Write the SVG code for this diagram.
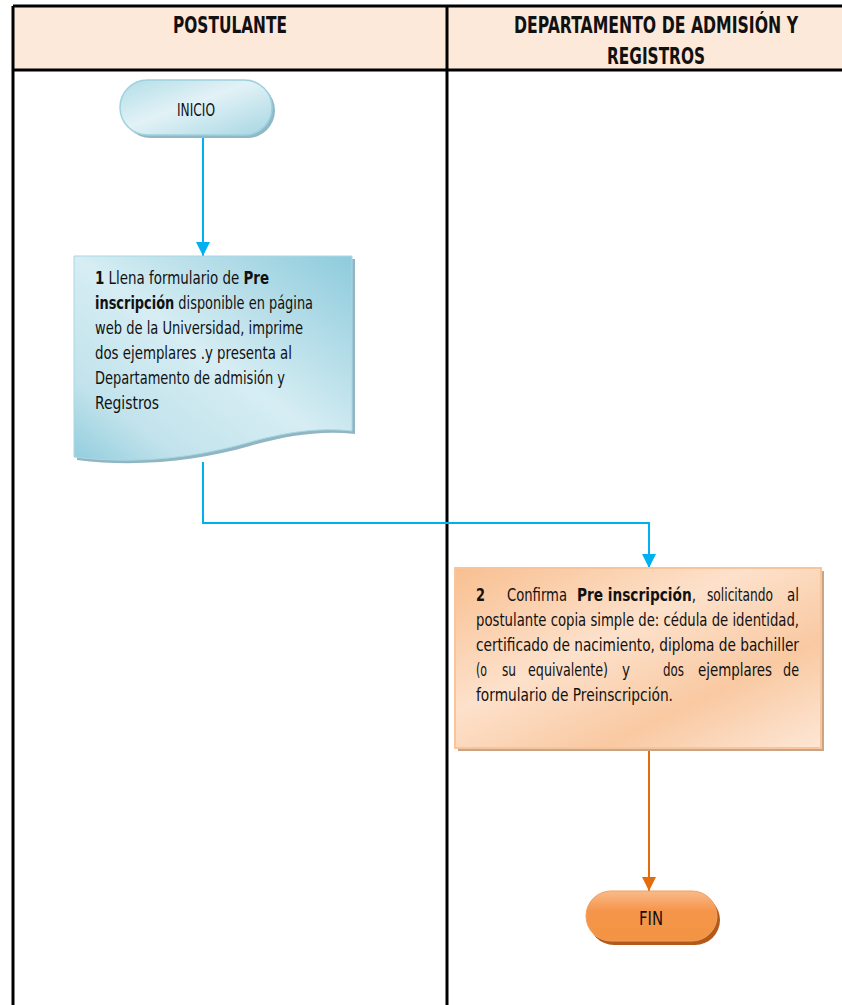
<svg xmlns="http://www.w3.org/2000/svg" width="842" height="1005" viewBox="0 0 842 1005">
<style>
  text{font-family:"Liberation Sans Narrow","DejaVu Sans Condensed","Liberation Sans",sans-serif;fill:#111;}
  .hd{font-size:23px;font-weight:bold;text-anchor:middle;}
  .tx{font-size:18px;}
  .b{font-weight:bold;}
  .grid{stroke:#000;stroke-width:3;fill:none;}
  .cb{stroke:#00b0f0;stroke-width:2;fill:none;}
  .co{stroke:#e46c0a;stroke-width:2;fill:none;}
</style>
<defs>
  <marker id="ab" markerUnits="userSpaceOnUse" markerWidth="16" markerHeight="16" refX="14" refY="7" orient="auto">
    <path d="M0,0 L14,7 L0,14 Z" fill="#00b0f0"/>
  </marker>
  <marker id="ao" markerUnits="userSpaceOnUse" markerWidth="16" markerHeight="16" refX="14" refY="7" orient="auto">
    <path d="M0,0 L14,7 L0,14 Z" fill="#e46c0a"/>
  </marker>
  <linearGradient id="gInicio" x1="0" y1="0" x2="1" y2="1">
    <stop offset="0" stop-color="#b2dde8"/>
    <stop offset="0.45" stop-color="#e2f2f6"/>
    <stop offset="1" stop-color="#a6d6e3"/>
  </linearGradient>
  <linearGradient id="gDoc" x1="1" y1="0" x2="0" y2="1">
    <stop offset="0" stop-color="#8ecbdc"/>
    <stop offset="0.5" stop-color="#d6edf3"/>
    <stop offset="0.8" stop-color="#c2e3ec"/>
    <stop offset="1" stop-color="#92cddd"/>
  </linearGradient>
  <linearGradient id="gBox" x1="0" y1="0" x2="1" y2="1">
    <stop offset="0" stop-color="#f8bf90"/>
    <stop offset="0.4" stop-color="#fde1cb"/>
    <stop offset="0.7" stop-color="#f9c9a2"/>
    <stop offset="1" stop-color="#fde7d6"/>
  </linearGradient>
  <linearGradient id="gFin" x1="0" y1="0" x2="0" y2="1">
    <stop offset="0" stop-color="#f9bb8a"/>
    <stop offset="0.4" stop-color="#f5954a"/>
    <stop offset="1" stop-color="#f39443"/>
  </linearGradient>
</defs>

<g id="lanes">
  <rect x="13" y="6" width="832" height="64" fill="#fde9d9"/>
  <path class="grid" d="M13,6 H845 M13,70 H845 M13,6 V1005 M447,6 V1005"/>
  <text class="hd" x="230" y="33" textLength="114" lengthAdjust="spacingAndGlyphs">POSTULANTE</text>
  <text class="hd" x="656" y="33" textLength="284" lengthAdjust="spacingAndGlyphs">DEPARTAMENTO DE ADMISIÓN Y</text>
  <text class="hd" x="656" y="64" textLength="98" lengthAdjust="spacingAndGlyphs">REGISTROS</text>
</g>

<g id="connectors">
  <path class="cb" d="M203,138 V256" marker-end="url(#ab)"/>
  <path class="cb" d="M203,462 V523 H649 V568" marker-end="url(#ab)"/>
  <path class="co" d="M649,751 V891" marker-end="url(#ao)"/>
</g>

<g id="inicio">
  <rect x="123" y="83" width="152" height="55" rx="27.5" fill="#8fb9c5"/>
  <rect x="120" y="80" width="152" height="55" rx="27.5" fill="url(#gInicio)" stroke="#9fd0de" stroke-width="1.5"/>
  <text class="tx" x="196" y="116" text-anchor="middle" textLength="38" lengthAdjust="spacingAndGlyphs">INICIO</text>
</g>

<g id="paso1">
  <path d="M77,259 H355 V434 C320,430 285,436 250,446 C200,460 140,468 77,460 Z" fill="#8fb6c2"/>
  <path d="M74,256 H352 V431 C317,427 282,433 247,443 C197,457 137,465 74,457 Z" fill="url(#gDoc)" stroke="#a9d7e3" stroke-width="1"/>
  <text class="tx" x="95" y="284" textLength="174" lengthAdjust="spacingAndGlyphs"><tspan class="b">1</tspan> Llena formulario de <tspan class="b">Pre</tspan></text>
  <text class="tx" x="95" y="309" textLength="218" lengthAdjust="spacingAndGlyphs"><tspan class="b">inscripción</tspan> disponible en página</text>
  <text class="tx" x="95" y="334" textLength="208" lengthAdjust="spacingAndGlyphs">web de la Universidad, imprime</text>
  <text class="tx" x="95" y="359" textLength="197" lengthAdjust="spacingAndGlyphs">dos ejemplares .y presenta al</text>
  <text class="tx" x="95" y="384" textLength="190" lengthAdjust="spacingAndGlyphs">Departamento de admisión y</text>
  <text class="tx" x="95" y="409" textLength="64" lengthAdjust="spacingAndGlyphs">Registros</text>
</g>

<g id="paso2">
  <rect x="458" y="571" width="366" height="180" fill="#c9a588"/>
  <rect x="455" y="568" width="366" height="180" fill="url(#gBox)" stroke="#f9c49a" stroke-width="2"/>
  <text class="tx b" x="476" y="601" textLength="9" lengthAdjust="spacingAndGlyphs">2</text>
  <text class="tx" x="507" y="601" textLength="60" lengthAdjust="spacingAndGlyphs">Confirma</text>
  <text class="tx" x="577" y="601" textLength="119" lengthAdjust="spacingAndGlyphs"><tspan class="b">Pre inscripción</tspan>,</text>
  <text class="tx" x="707" y="601" textLength="66" lengthAdjust="spacingAndGlyphs">solicitando</text>
  <text class="tx" x="787" y="601" textLength="12" lengthAdjust="spacingAndGlyphs">al</text>
  <text class="tx" x="476" y="626" textLength="323" lengthAdjust="spacingAndGlyphs">postulante copia simple de: cédula de identidad,</text>
  <text class="tx" x="476" y="651" textLength="323" lengthAdjust="spacingAndGlyphs">certificado de nacimiento, diploma de bachiller</text>
  <text class="tx" x="476" y="676" textLength="11" lengthAdjust="spacingAndGlyphs">(o</text>
  <text class="tx" x="502" y="676" textLength="14" lengthAdjust="spacingAndGlyphs">su</text>
  <text class="tx" x="528" y="676" textLength="80" lengthAdjust="spacingAndGlyphs">equivalente)</text>
  <text class="tx" x="622" y="676" textLength="8" lengthAdjust="spacingAndGlyphs">y</text>
  <text class="tx" x="663" y="676" textLength="21" lengthAdjust="spacingAndGlyphs">dos</text>
  <text class="tx" x="698" y="676" textLength="74" lengthAdjust="spacingAndGlyphs">ejemplares</text>
  <text class="tx" x="783" y="676" textLength="16" lengthAdjust="spacingAndGlyphs">de</text>
  <text class="tx" x="476" y="701" textLength="197" lengthAdjust="spacingAndGlyphs">formulario de Preinscripción.</text>
</g>

<g id="fin">
  <rect x="589" y="895" width="131" height="50" rx="25" fill="#b35a1b"/>
  <rect x="586" y="891" width="131" height="50" rx="25" fill="url(#gFin)" stroke="#f0a060" stroke-width="1"/>
  <text class="tx" x="651" y="925" text-anchor="middle" textLength="24" lengthAdjust="spacingAndGlyphs" style="font-size:19px">FIN</text>
</g>
</svg>
